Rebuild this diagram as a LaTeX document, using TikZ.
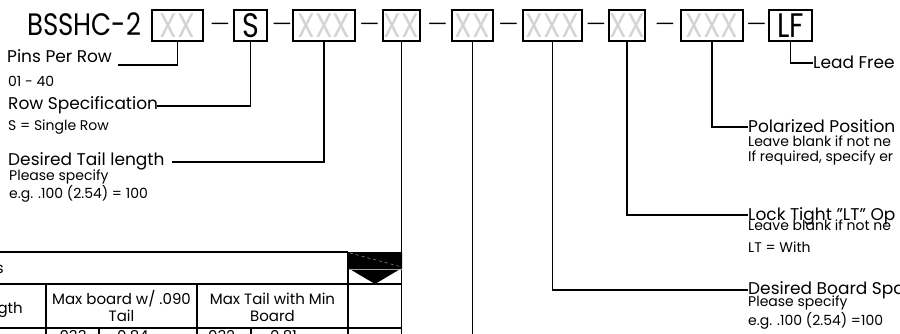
\documentclass[tikz,border=0pt]{standalone}
\usepackage{fontspec}
\setmainfont{Poppins}
\newcommand{\nrw}[1]{\scalebox{0.84}[1]{#1}}
\newcommand{\wdash}{\scalebox{1.75}[1]{–}}
\begin{document}
\begin{tikzpicture}[x=1pt,y=-1pt,
  pn/.style={draw, line width=1.6pt, inner sep=0pt, minimum height=31pt,
    font=\fontsize{34}{34}\selectfont, text height=24pt, text depth=0pt},
  ph/.style={pn, text=black!17},
  dsh/.style={inner sep=0pt, anchor=base, font=\fontsize{18}{18}\selectfont},
  conn/.style={line width=1.9pt},
  tbl/.style={line width=1.8pt},
  lbl/.style={anchor=base west, inner sep=0pt, font=\fontsize{17}{17}\selectfont},
  sub/.style={anchor=base west, inner sep=0pt, font=\fontsize{14}{14}\selectfont},
  tt/.style={anchor=base, inner sep=0pt, font=\fontsize{15}{15}\selectfont}]
\useasboundingbox (0,0) rectangle (900,334);
\clip (0,0) rectangle (900,334);
\fill[white] (0,0) rectangle (900,334);

% part number
\node[anchor=base west, inner sep=0pt, font=\fontsize{31}{31}\selectfont] (pn) at (27,36) {\nrw{BSSHC-2}};
\node[ph, minimum width=51pt] (b1) at (177.5,25.5) {\nrw{XX}};
\node[pn, minimum width=33pt] (b2) at (250.5,25.5) {\nrw{S}};
\node[ph, minimum width=62pt] (b3) at (324,25.5) {\nrw{XXX}};
\node[ph, minimum width=37pt] (b4) at (401.5,25.5) {\nrw{XX}};
\node[ph, minimum width=41pt] (b5) at (472.5,25.5) {\nrw{XX}};
\node[ph, minimum width=59pt] (b6) at (552.5,25.5) {\nrw{XXX}};
\node[ph, minimum width=36pt] (b7) at (627,25.5) {\nrw{XX}};
\node[ph, minimum width=62pt] (b8) at (712,25.5) {\nrw{XXX}};
\node[pn, minimum width=43pt] (b9) at (790.5,25.5) {\nrw{LF}};

\node[dsh] (d1) at (220,30.5) {\wdash};
\node[dsh] (d2) at (282,30.5) {\wdash};
\node[dsh] (d3) at (369.5,30.5) {\wdash};
\node[dsh] (d4) at (437.5,30.5) {\wdash};
\node[dsh] (d5) at (508.5,30.5) {\wdash};
\node[dsh] (d6) at (596,30.5) {\wdash};
\node[dsh] (d7) at (665,30.5) {\wdash};
\node[dsh] (d8) at (756.5,30.5) {\wdash};

% left labels
\node[lbl] (pins) at (7,63) {Pins Per Row};
\node[sub] (pins2) at (8,87) {01 - 40};
\node[lbl] (row) at (8,110) {Row Specification};
\node[sub] (row2) at (8,131) {S = Single Row};
\node[lbl] (tail) at (8,166) {Desired Tail length};
\node[sub] (tail2) at (9,181) {Please specify};
\node[sub] (tail3) at (9,199) {e.g. .100 (2.54) = 100};

% right labels
\node[lbl] (lead) at (813,69) {Lead Free};
\node[lbl] (polar) at (748,133) {Polarized Position};
\node[sub] (polar2) at (748,147) {Leave blank if not ne};
\node[sub] (polar3) at (748,161) {If required, specify er};
\node[lbl] (lock) at (748,220) {Lock Tight "LT" Op};
\node[sub] (lock2) at (748,230) {Leave blank if not ne};
\node[sub] (lock3) at (748,252) {LT = With};
\node[lbl] (board) at (748,294) {Desired Board Spa};
\node[sub] (board2) at (748,306) {Please specify};
\node[sub] (board3) at (748,325) {e.g. .100 (2.54) =100};

% connector end points
\coordinate (e1) at (118,65);
\coordinate (e2) at (157,106);
\coordinate (e3) at (172,162);
\coordinate (e4) at (401.5,334);
\coordinate (e5) at (472.5,334);
\coordinate (e6) at (748,290);
\coordinate (e7) at (748,215);
\coordinate (e8) at (748,127);
\coordinate (e9) at (813,63);

\draw[conn] (b1.south) |- (e1);
\draw[conn] (b2.south) |- (e2);
\draw[conn] (b3.south) |- (e3);
\draw[conn] (b4.south) -- (e4);
\draw[conn] (b5.south) -- (e5);
\draw[conn] (b6.south) |- (e6);
\draw[conn] (b7.south) |- (e7);
\draw[conn] (b8.south) |- (e8);
\draw[conn] (b9.south) |- (e9);

% table
\fill[black] (348,252) -- (402,252) -- (402,268) -- (375,284) -- (348,268) -- cycle;
\draw[gray!70, line width=0.5pt] (348,269) -- (402,269);
\draw[gray!60, line width=0.4pt, dashed] (350,253) -- (402,267);
\draw[tbl] (0,252) -- (348,252);
\draw[tbl] (0,284) -- (402,284);
\draw[tbl] (0,328) -- (402,328);
\draw[tbl] (46,284) -- (46,334);
\draw[tbl] (197,284) -- (197,334);
\draw[tbl] (348,252) -- (348,334);
\draw[tbl] (99,328) -- (99,334);
\draw[tbl] (251,328) -- (251,334);

\node[tt, anchor=base east] (t0) at (4,273) {s};
\node[tt, anchor=base east] (t1) at (23,313) {gth};
\node[tt] (t2) at (121.5,304.5) {Max board w/ .090};
\node[tt] (t3) at (121.5,321) {Tail};
\node[tt] (t4) at (272.5,304.5) {Max Tail with Min};
\node[tt] (t5) at (272.5,321) {Board};
\node[tt] (t6) at (71.5,341) {.033};
\node[tt, anchor=base west] (t7) at (117,341) {0.84};
\node[tt] (t8) at (220,341) {.032};
\node[tt, anchor=base west] (t9) at (270,341) {0.81};
\end{tikzpicture}
\end{document}
